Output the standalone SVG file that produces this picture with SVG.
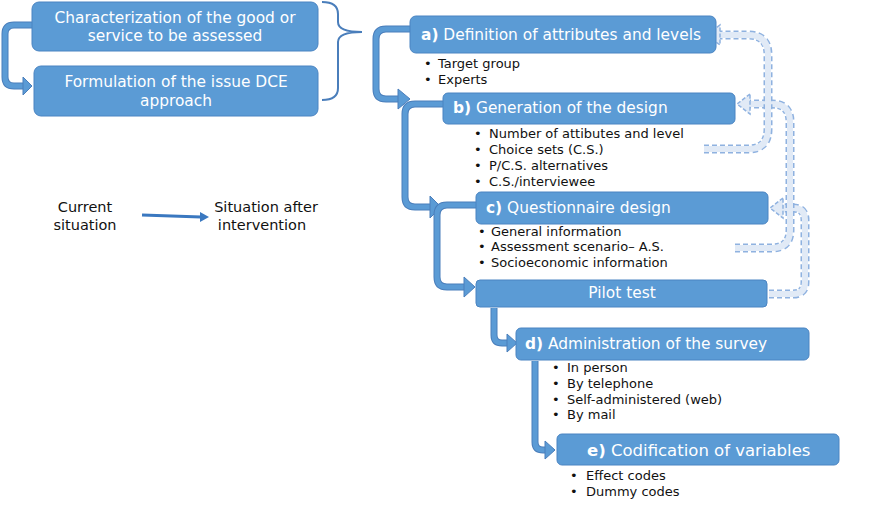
<svg xmlns="http://www.w3.org/2000/svg" width="885" height="507" viewBox="0 0 885 507">
<style>
.box{fill:#5b9bd5;stroke:#4a84c2;stroke-width:1}
.bt{font-family:"DejaVu Sans","Open Sans",sans-serif;font-size:15.4px;fill:#fff}
.bl{font-family:"DejaVu Sans","Open Sans",sans-serif;font-size:13px;fill:#111}
.lg{font-family:"DejaVu Sans","Open Sans",sans-serif;font-size:14.5px;fill:#111;text-anchor:middle}
.so{fill:none;stroke:#4a7ebb;stroke-width:7}
.si{fill:none;stroke:#5b9bd5;stroke-width:5}
.sh{fill:#5b9bd5;stroke:#4a7ebb;stroke-width:1}
.do{fill:none;stroke:#8fb2e0;stroke-width:9;stroke-dasharray:5 3}
.di{fill:none;stroke:#e1eaf6;stroke-width:6}
.dh{fill:#e1eaf6;stroke:#8fb2e0;stroke-width:1.5;stroke-dasharray:4 2}
</style>
<rect width="885" height="507" fill="#fff"/>
<g id="connectors">
<path class="so" d="M32,25 H14 Q5,25 5,34 V77 Q5,86 14,86 H23"/>
<path class="si" d="M32,25 H14 Q5,25 5,34 V77 Q5,86 14,86 H23"/>
<polygon class="sh" points="23,77 32,86 23,95"/>
<path d="M322,2 Q338,2 338,14 V22 Q338,32 362,32 Q338,32 338,42 V88 Q338,100 322,100" fill="none" stroke="#4a7ebb" stroke-width="2"/>
<path class="so" d="M410,29 H386 Q376,29 376,39 V89 Q376,99 386,99 H398"/>
<path class="si" d="M410,29 H386 Q376,29 376,39 V89 Q376,99 386,99 H398"/>
<polygon class="sh" points="398,89 410,99 398,109"/>
<path class="so" d="M443,104 H415 Q405,104 405,114 V197 Q405,207 415,207 H430"/>
<path class="si" d="M443,104 H415 Q405,104 405,114 V197 Q405,207 415,207 H430"/>
<polygon class="sh" points="430,196 441,207 430,218"/>
<path class="so" d="M476,205 H447 Q437,205 437,215 V277 Q437,287 447,287 H464"/>
<path class="si" d="M476,205 H447 Q437,205 437,215 V277 Q437,287 447,287 H464"/>
<polygon class="sh" points="464,277 475,287 464,297"/>
<path class="so" d="M494,308 V335 Q494,343 502,343 H507"/>
<path class="si" d="M494,308 V335 Q494,343 502,343 H507"/>
<polygon class="sh" points="507,334 517,343 507,352"/>
<path class="so" d="M535,361 V442 Q535,450 543,450 H545"/>
<path class="si" d="M535,361 V442 Q535,450 543,450 H545"/>
<polygon class="sh" points="545,441 555,450 545,459"/>
<path d="M142,215 L201,217" stroke="#3a78c0" stroke-width="3" fill="none"/>
<polygon points="200,212 209,217 200,222" fill="#3a78c0"/>
<path class="do" d="M769,294 H793 Q805,294 805,282 V220 Q805,208 793,208 H783"/>
<path class="di" d="M769,294 H793 Q805,294 805,282 V220 Q805,208 793,208 H783"/>
<polygon class="dh" points="783,198 770,208 783,218"/>
<path class="do" d="M735,248 H772 Q790,248 790,230 V122 Q790,104 772,104 H750"/>
<path class="di" d="M735,248 H772 Q790,248 790,230 V122 Q790,104 772,104 H750"/>
<polygon class="dh" points="750,94 737,104 750,114"/>
<path class="do" d="M704,149 H748 Q768,149 768,129 V55 Q768,35 748,35 H720"/>
<path class="di" d="M704,149 H748 Q768,149 768,129 V55 Q768,35 748,35 H720"/>
<polygon class="dh" points="720,25 706,35 720,45"/>
</g>
<g id="n1">
<rect class="box" x="32" y="2" width="286" height="49" rx="7"/>
<text class="bt" x="175" y="23" text-anchor="middle">Characterization of the good or</text>
<text class="bt" x="175" y="41" text-anchor="middle">service to be assessed</text>
</g>
<g id="n2">
<rect class="box" x="34" y="66" width="284" height="50" rx="7"/>
<text class="bt" x="176" y="87" text-anchor="middle">Formulation of the issue DCE</text>
<text class="bt" x="176" y="106" text-anchor="middle">approach</text>
</g>
<g id="na">
<rect class="box" x="410" y="16" width="306" height="37" rx="6"/>
<text class="bt" x="421" y="40"><tspan font-weight="bold">a)</tspan> Definition of attributes and levels</text>
<text class="bl" y="68"><tspan x="424">•</tspan><tspan x="438">Target group</tspan></text>
<text class="bl" y="84"><tspan x="424">•</tspan><tspan x="438">Experts</tspan></text>
</g>
<g id="nb">
<rect class="box" x="443" y="93" width="292" height="31" rx="5"/>
<text class="bt" x="453" y="113"><tspan font-weight="bold">b)</tspan> Generation of the design</text>
<text class="bl" y="138"><tspan x="474">•</tspan><tspan x="489">Number of attibutes and level</tspan></text>
<text class="bl" y="154"><tspan x="474">•</tspan><tspan x="489">Choice sets (C.S.)</tspan></text>
<text class="bl" y="170"><tspan x="474">•</tspan><tspan x="489">P/C.S. alternatives</tspan></text>
<text class="bl" y="186"><tspan x="474">•</tspan><tspan x="489">C.S./interviewee</tspan></text>
</g>
<g id="nc">
<rect class="box" x="476" y="192" width="292" height="32" rx="5"/>
<text class="bt" x="486" y="213"><tspan font-weight="bold">c)</tspan> Questionnaire design</text>
<text class="bl" y="236"><tspan x="478">•</tspan><tspan x="491">General information</tspan></text>
<text class="bl" y="251"><tspan x="478">•</tspan><tspan x="491">Assessment scenario– A.S.</tspan></text>
<text class="bl" y="267"><tspan x="478">•</tspan><tspan x="491">Socioeconomic information</tspan></text>
</g>
<g id="npilot">
<rect class="box" x="476" y="280" width="291" height="27" rx="4"/>
<text class="bt" x="622" y="298" text-anchor="middle">Pilot test</text>
</g>
<g id="nd">
<rect class="box" x="516" y="328" width="293" height="32" rx="5"/>
<text class="bt" x="525" y="349"><tspan font-weight="bold">d)</tspan> Administration of the survey</text>
<text class="bl" y="372"><tspan x="552">•</tspan><tspan x="567">In person</tspan></text>
<text class="bl" y="388"><tspan x="552">•</tspan><tspan x="567">By telephone</tspan></text>
<text class="bl" y="404"><tspan x="552">•</tspan><tspan x="567">Self-administered  (web)</tspan></text>
<text class="bl" y="419"><tspan x="552">•</tspan><tspan x="567">By mail</tspan></text>
</g>
<g id="ne">
<rect class="box" x="557" y="434" width="282" height="31" rx="5"/>
<text class="bt" x="587" y="456" style="font-size:16.5px"><tspan font-weight="bold">e)</tspan> Codification of variables</text>
<text class="bl" y="480"><tspan x="570">•</tspan><tspan x="586">Effect codes</tspan></text>
<text class="bl" y="496"><tspan x="570">•</tspan><tspan x="586">Dummy codes</tspan></text>
</g>
<g id="legend">
<text class="lg" x="85" y="212">Current</text>
<text class="lg" x="85" y="230">situation</text>
<text class="lg" x="266" y="212">Situation after</text>
<text class="lg" x="262" y="230">intervention</text>
</g>
</svg>
